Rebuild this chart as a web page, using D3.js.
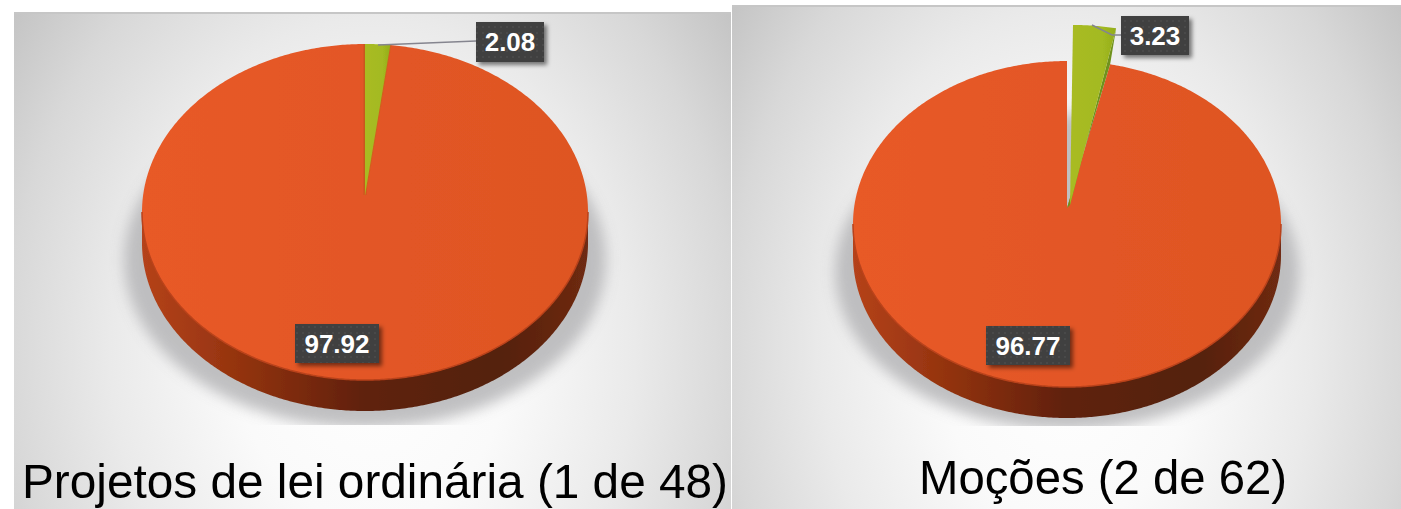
<!DOCTYPE html>
<html><head><meta charset="utf-8">
<script src="https://cdn.jsdelivr.net/npm/d3@7"></script>
<style>html,body{margin:0;padding:0;background:#fff;overflow:hidden}svg{display:block}</style>
</head><body>
<script>
// ---- data
const titles = ["Projetos de lei ordinária (1 de 48)", "Moções (2 de 62)"];
const minorValues = [2.08, 3.23];
const majorValues = [97.92, 96.77];

// ---- layout
const layouts = [
  {x:14,y:12,w:717,h:497,cx:365,cy:212,rx:223,ry:168,ax:365,ay:195,depth:31,sweep:.87,
   title:{x:22,y:498,len:706},shadow:{cx:365,cy:260,rx:241,ry:168,clip:425},
   minor:{x:476,y:22,w:68,h:40,line:[[378,45],[476,41]]},major:{x:295,y:324,w:84,h:39},explode:0},
  {x:732,y:5,w:669,h:504,cx:1067,cy:224,rx:214,ry:163,ax:1067,ay:208,depth:31,sweep:1,
   title:{x:919,y:493.5,len:368},shadow:{cx:1067,cy:272,rx:232,ry:158,clip:426},
   minor:{x:1121,y:16,w:68,h:39,line:[[1092,25],[1112,35],[1121,35]]},major:{x:986,y:326,w:84,h:39},explode:36}
];
const W=1401,H=509;
const svg=d3.select("body").append("svg").attr("width",W).attr("height",H);
svg.append("rect").attr("width",W).attr("height",H).attr("fill","#fff");
const defs=svg.append("defs");

const blurF=defs.append("filter").attr("id","blur").attr("x","-20%").attr("y","-20%").attr("width","140%").attr("height","140%");
blurF.append("feGaussianBlur").attr("stdDeviation",7);
const dsF=defs.append("filter").attr("id","ds").attr("x","-20%").attr("y","-20%").attr("width","150%").attr("height","150%");
dsF.append("feDropShadow").attr("dx",3).attr("dy",3).attr("stdDeviation",2).attr("flood-color","#000").attr("flood-opacity",.5);
const softF=defs.append("filter").attr("id","soft");
softF.append("feGaussianBlur").attr("stdDeviation",.45);
const softT=defs.append("filter").attr("id","softText");
softT.append("feGaussianBlur").attr("stdDeviation",.35);

const pat=defs.append("pattern").attr("id","dots").attr("width",6).attr("height",6).attr("patternUnits","userSpaceOnUse");
pat.append("rect").attr("width",6).attr("height",6).attr("fill","#3f3f3f");
pat.append("circle").attr("cx",3).attr("cy",3).attr("r",.8).attr("fill","#545454");

const wallGrad=defs.append("linearGradient").attr("id","wall");
[[0,"#b5421a"],[.22,"#93330f"],[.5,"#5f200c"],[.8,"#54200c"],[1,"#6f2a12"]]
  .forEach(s=>wallGrad.append("stop").attr("offset",s[0]).attr("stop-color",s[1]));
const topGrad=defs.append("linearGradient").attr("id","topFace");
[[0,"#e85a28"],[.6,"#e25625"],[1,"#de5523"]]
  .forEach(s=>topGrad.append("stop").attr("offset",s[0]).attr("stop-color",s[1]));
const greenGrad=defs.append("linearGradient").attr("id","greenFace");
[[0,"#a9bb22"],[.7,"#a3ba20"],[1,"#93ad1e"]]
  .forEach(s=>greenGrad.append("stop").attr("offset",s[0]).attr("stop-color",s[1]));

const pie=d3.pie().sort(null);
const lineGen=d3.line();

layouts.forEach((L,i)=>{
  const g=svg.append("g");
  const grad=defs.append("radialGradient").attr("id","bg"+i)
    .attr("cx",0).attr("cy",0).attr("r",1)
    .attr("gradientTransform","translate(.5,.68) scale(.636,1.16)");
  [[0,"#ffffff"],[.3,"#fafafa"],[.575,"#eaeaea"],[.8,"#d8d8d8"],[1,"#c2c2c2"]]
    .forEach(s=>grad.append("stop").attr("offset",s[0]).attr("stop-color",s[1]));
  g.append("rect").attr("x",L.x).attr("y",L.y).attr("width",L.w).attr("height",L.h).attr("fill",`url(#bg${i})`);
  g.append("rect").attr("x",L.x).attr("y",L.y).attr("width",L.w).attr("height",2).attr("fill","#c6c6c6");

  // soft floor shadow, cut flat at the bottom
  const clip=defs.append("clipPath").attr("id","clip"+i);
  clip.append("rect").attr("x",L.x).attr("y",L.y).attr("width",L.w).attr("height",L.shadow.clip-L.y);
  g.append("g").attr("clip-path",`url(#clip${i})`)
   .append("ellipse").attr("cx",L.shadow.cx).attr("cy",L.shadow.cy).attr("rx",L.shadow.rx).attr("ry",L.shadow.ry)
   .attr("fill","#b6b6b8").attr("opacity",.85).attr("filter","url(#blur)");

  const arcs=pie([minorValues[i],majorValues[i]]);
  const rim=(a,dy=0,ex=0)=>[L.cx+L.rx*Math.sin(a),L.cy+dy-L.ry*Math.cos(a)-ex];
  const samples=(a0,a1,dy=0,ex=0)=>{
    const n=Math.max(2,Math.ceil((a1-a0)/0.01));
    return d3.range(n+1).map(k=>rim(a0+(a1-a0)*k/n,dy,ex));
  };

  // side wall: the lower half of the rim and its copy lower down
  const wallPts=samples(Math.PI/2,Math.PI*1.5,L.depth).concat(samples(Math.PI/2,Math.PI*1.5).reverse());
  const pieG=g.append("g").attr("filter","url(#soft)");
  pieG.append("path").attr("d",lineGen(wallPts)+"Z").attr("fill","url(#wall)");

  // major slice
  const major=arcs[1], minor=arcs[0];
  const split=minor.endAngle*L.sweep;
  const apex=[L.ax,L.ay];
  pieG.append("path").attr("d",lineGen([apex].concat(samples(split,major.endAngle)))+"Z")
    .attr("fill","url(#topFace)");
  // darker lip where top face meets the wall
  pieG.append("path").attr("d",lineGen(samples(Math.PI/2,Math.PI*1.5)))
    .attr("fill","none").attr("stroke","#b9421a").attr("stroke-width",1.5);

  // minor slice
  const ex=L.explode;
  if(ex){
    const minorPts=samples(minor.startAngle,split,0,ex).map(p=>[p[0]+6,p[1]]);
    const tip=[L.ax+3,L.ay-3];
    const outer=minorPts[minorPts.length-1];
    // shaded inner face of the pulled-out slice
    pieG.append("path").attr("d",lineGen([tip,outer,rim(split),apex])+"Z").attr("fill","#6f921c");
    pieG.append("path").attr("d",lineGen([tip].concat(minorPts))+"Z").attr("fill","url(#greenFace)");
  } else {
    // darker cut edges beside the slice
    pieG.append("path").attr("d",lineGen([apex,rim(0)])).attr("stroke","#c8591f").attr("stroke-width",3).attr("fill","none");
    pieG.append("path").attr("d",lineGen([apex,rim(split)])).attr("stroke","#d0601f").attr("stroke-width",2).attr("fill","none");
    pieG.append("path").attr("d",lineGen([apex].concat(samples(minor.startAngle,split)))+"Z").attr("fill","url(#greenFace)");
  }

  // leader line
  g.append("path").attr("d",lineGen(L.minor.line)).attr("fill","none").attr("stroke","#85858f").attr("stroke-width",1.5);

  // labels
  [[L.minor,minorValues[i]],[L.major,majorValues[i]]].forEach(([b,v])=>{
    const lg=g.append("g");
    lg.append("rect").attr("x",b.x).attr("y",b.y).attr("width",b.w).attr("height",b.h)
      .attr("fill","url(#dots)").attr("filter","url(#ds)");
    lg.append("text").attr("x",b.x+b.w/2).attr("y",b.y+b.h/2+9)
      .attr("text-anchor","middle").attr("font-family","'Liberation Sans',Arial,sans-serif")
      .attr("font-weight","bold").attr("font-size",26).attr("fill","#fff").text(d3.format(".2f")(v));
  });

  // title
  g.append("text").attr("x",L.title.x).attr("y",L.title.y)
    .attr("font-family","'Liberation Sans',Arial,sans-serif").attr("font-size",48)
    .attr("textLength",L.title.len).attr("lengthAdjust","spacingAndGlyphs")
    .attr("fill","#000").attr("filter","url(#softText)").text(titles[i]);
});
</script>
</body></html>
